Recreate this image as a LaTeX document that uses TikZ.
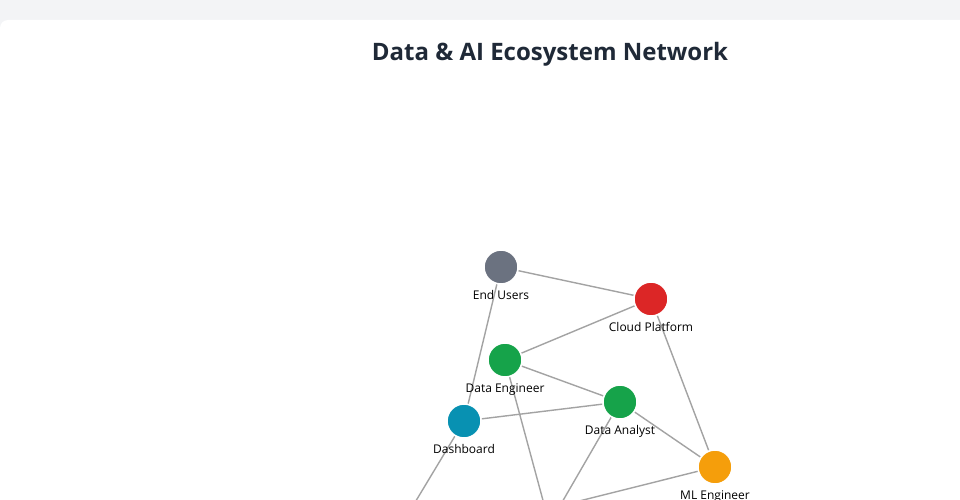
\documentclass[tikz,border=0pt]{standalone}
\usepackage{fontspec}
\setmainfont{Open Sans}
\definecolor{pagebg}{HTML}{F3F4F6}
\definecolor{titlec}{HTML}{1F2937}
\definecolor{edgec}{HTML}{A3A3A3}
\definecolor{cgray}{HTML}{6B7280}
\definecolor{cred}{HTML}{DC2626}
\definecolor{cgreen}{HTML}{16A34A}
\definecolor{cblue}{HTML}{0891B2}
\definecolor{corange}{HTML}{F59E0B}
\pgfdeclarelayer{cardlayer}
\pgfdeclarelayer{edgelayer}
\pgfsetlayers{cardlayer,edgelayer,main}
\tikzset{
  vertex/.style={circle, minimum size=34pt, inner sep=0pt, draw=white, line width=1.5pt, fill=#1},
  vlabel/.style={font=\fontsize{12}{14}\selectfont, text=black, inner sep=0pt, anchor=base},
  link/.style={draw=edgec, line width=1.4pt},
}
\begin{document}
\begin{tikzpicture}[x=1pt,y=-1pt]
\useasboundingbox (0,0) rectangle (960,500);
\begin{pgfonlayer}{cardlayer}
\fill[pagebg] (0,0) rectangle (960,500);
\fill[white, rounded corners=8pt] (0,20) rectangle (980,520);
\end{pgfonlayer}
\node[font=\bfseries\fontsize{24}{28}\selectfont, text=titlec] (title) at (550,54) {Data \& AI Ecosystem Network};

\coordinate (o1) at (392.2,540.3);
\coordinate (o2) at (553.8,540.3);
\coordinate (o3) at (540.0,540.3);
\coordinate (o4) at (503.4,520.0);

\node[vertex=cgray] (eu) at (501,267) {};
\node[vertex=cred] (cp) at (651,299) {};
\node[vertex=cgreen] (de) at (505,360) {};
\node[vertex=cgreen] (da) at (620,402) {};
\node[vertex=cblue] (db) at (464,421) {};
\node[vertex=corange] (ml) at (715,467) {};

\begin{pgfonlayer}{edgelayer}
\begin{scope}
\clip (0,0) rectangle (960,500);
\path[link] (eu) -- (cp);
\path[link] (cp) -- (de);
\path[link] (cp) -- (ml);
\path[link] (de) -- (da);
\path[link] (eu) -- (db);
\path[link] (db) -- (da);
\path[link] (da) -- (ml);
\path[link] (db) -- (o1);
\path[link] (de) -- (o2);
\path[link] (da) -- (o3);
\path[link] (ml) -- (o4);
\end{scope}
\end{pgfonlayer}

\node[vlabel] (leu) at (501,299.5) {End Users};
\node[vlabel] (lcp) at (651,331.5) {Cloud Platform};
\node[vlabel] (lde) at (505,392.5) {Data Engineer};
\node[vlabel] (lda) at (620,434.5) {Data Analyst};
\node[vlabel] (ldb) at (464,453.5) {Dashboard};
\node[vlabel] (lml) at (715,499.5) {ML Engineer};
\end{tikzpicture}
\end{document}
